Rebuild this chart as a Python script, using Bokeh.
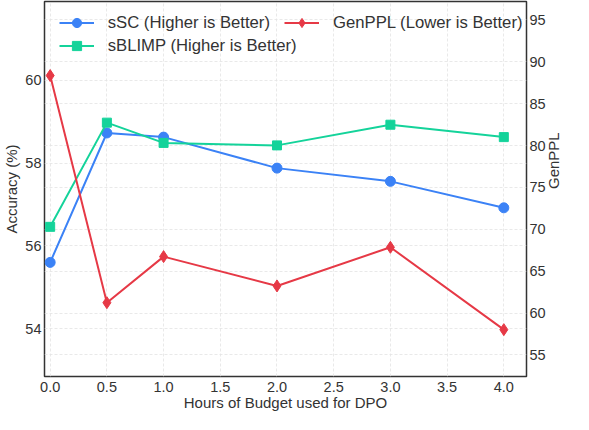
import math
from bokeh.plotting import figure
from bokeh.models import (Range1d, LinearAxis, FixedTicker, Grid, Legend,
                          LegendItem, ColumnDataSource)
from bokeh.embed import file_html
from bokeh.resources import INLINE

# ---- data ----
hours = [0.0, 0.5, 1.0, 2.0, 3.0, 4.0]
ssc = [55.60, 58.73, 58.63, 57.88, 57.56, 56.92]
sblimp = [56.46, 58.98, 58.49, 58.43, 58.93, 58.63]
genppl = [88.35, 61.24, 66.74, 63.24, 67.85, 58.02]

x_ticks = [0.0, 0.5, 1.0, 1.5, 2.0, 2.5, 3.0, 3.5, 4.0]
x_tick_labels = ["0.0", "0.5", "1.0", "1.5", "2.0", "2.5", "3.0", "3.5", "4.0"]
acc_ticks = [54, 56, 58, 60]
ppl_ticks = [55, 60, 65, 70, 75, 80, 85, 90, 95]

series_names = ["sSC (Higher is Better)", "sBLIMP (Higher is Better)",
                "GenPPL (Lower is Better)"]

BLUE = "#3B82F6"
GREEN = "#14D39A"
RED = "#E63946"
FONT = "Liberation Sans"
TXT = "#333333"

W, H = 573, 414
BL, BR, BT, BB = 39, 40, 1, 38
FW = W - BL - BR
FH = H - BT - BB

src = ColumnDataSource(dict(x=hours, ssc=ssc, sblimp=sblimp, ppl=genppl))

p = figure(width=W, height=H, output_backend="svg", toolbar_location=None,
           x_range=Range1d(-0.05, 4.2), y_range=Range1d(52.84, 61.91),
           min_border_left=BL, min_border_right=BR, min_border_top=BT,
           min_border_bottom=BB)
p.extra_y_ranges = {"ppl": Range1d(52.43, 97.19)}

p.background_fill_color = "white"
p.border_fill_color = "white"
p.outline_line_color = "#333333"
p.outline_line_width = 1.5

grid_kw = dict(grid_line_color="#e3e3e3", grid_line_dash="3 2", grid_line_width=0.8)

# x axis
xt = FixedTicker(ticks=x_ticks)
p.xaxis.ticker = xt
p.xgrid.ticker = xt
p.xaxis.major_label_overrides = {t: l for t, l in zip(x_ticks, x_tick_labels)}
p.xaxis.axis_label = "Hours of Budget used for DPO"

# left axis
yt = FixedTicker(ticks=acc_ticks)
left = p.left[0]
left.ticker = yt
p.ygrid.ticker = yt
left.axis_label = "Accuracy (%)"

# right axis
rt = FixedTicker(ticks=ppl_ticks)
right = LinearAxis(y_range_name="ppl", ticker=rt, axis_label="GenPPL")
p.add_layout(right, "right")
rgrid = Grid(dimension=1, ticker=rt, y_range_name="ppl", **grid_kw)
p.add_layout(rgrid)

for g in (p.xgrid[0], p.ygrid[0]):
    g.grid_line_color = grid_kw["grid_line_color"]
    g.grid_line_dash = grid_kw["grid_line_dash"]
    g.grid_line_width = grid_kw["grid_line_width"]

for ax in (p.xaxis[0], left, right):
    ax.axis_line_color = None
    ax.major_tick_line_color = None
    ax.minor_tick_line_color = None
    ax.major_tick_out = 0
    ax.major_tick_in = 0
    ax.minor_tick_out = 0
    ax.minor_tick_in = 0
    ax.major_label_text_font = FONT
    ax.major_label_text_font_size = "14.5px"
    ax.major_label_text_color = TXT
    ax.axis_label_text_font = FONT
    ax.axis_label_text_font_size = "15px"
    ax.axis_label_text_font_style = "normal"
    ax.axis_label_text_color = TXT
    ax.major_label_standoff = 3
    ax.axis_label_standoff = 2

p.xaxis[0].major_label_standoff = 5
p.xaxis[0].axis_label_standoff = -1
right.axis_label_standoff = 5
right.axis_label_orientation = math.pi / 2

# series
l1 = p.line("x", "ssc", source=src, color=BLUE, line_width=2)
m1 = p.scatter("x", "ssc", source=src, marker="circle", size=10, color=BLUE)
l2 = p.line("x", "sblimp", source=src, color=GREEN, line_width=2)
m2 = p.scatter("x", "sblimp", source=src, marker="square", size=9, color=GREEN)
l3 = p.line("x", "ppl", source=src, color=RED, line_width=2, y_range_name="ppl")
m3 = p.scatter("x", "ppl", source=src, marker="diamond", size=12, color=RED,
               y_range_name="ppl")

ROW = 23
leg_kw = dict(border_line_color=None, background_fill_alpha=0,
              label_text_font=FONT, label_text_font_size="16.7px",
              label_text_color=TXT, glyph_width=35, glyph_height=ROW,
              label_height=ROW, label_standoff=14, spacing=0, padding=0, margin=0)

leg_top = 10
leg1 = Legend(items=[LegendItem(label=series_names[0], renderers=[l1, m1]),
                     LegendItem(label=series_names[1], renderers=[l2, m2])],
              location=(14.7, FH - leg_top - 2 * ROW), **leg_kw)
leg2 = Legend(items=[LegendItem(label=series_names[2], renderers=[l3, m3])],
              location=(240.0, FH - leg_top - ROW), **leg_kw)
p.add_layout(leg1, "center")
p.add_layout(leg2, "center")

open("out.html", "w").write(file_html(p, INLINE))
